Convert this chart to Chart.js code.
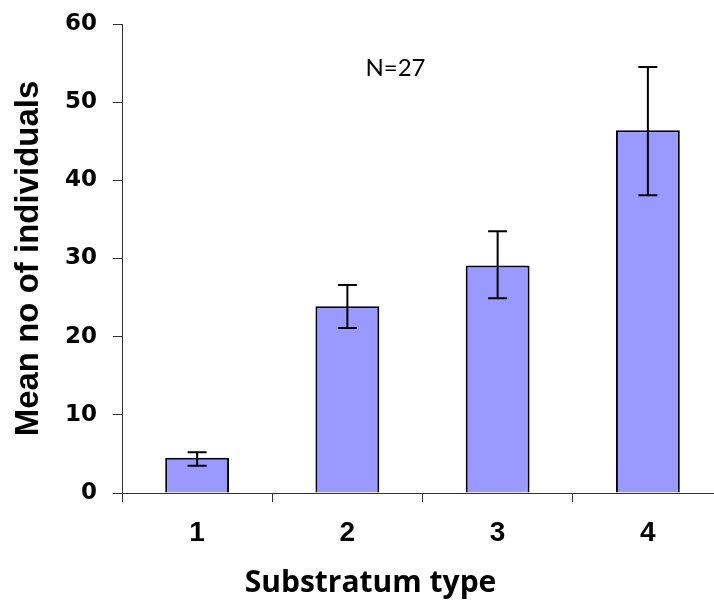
<!DOCTYPE html>
<html>
<head>
<meta charset="utf-8">
<script src="https://cdn.jsdelivr.net/npm/chart.js@4/dist/chart.umd.min.js"></script>
<style>
    html, body { margin: 0; padding: 0; background: #fff; overflow: hidden; }
    #wrap { width: 714px; height: 603px; overflow: hidden; }
</style>
</head>
<body>
<div id="wrap"><canvas id="substrateChart" width="730" height="603"></canvas></div>
<script>
// ═══ 데이터 ═══
const substrateTypes = ['1', '2', '3', '4'];
const meanCounts     = [4.5, 23.9, 29.1, 46.4];
const errLow         = [3.5, 21.1, 24.9, 38.1];
const errHigh        = [5.2, 26.6, 33.5, 54.5];
const yTicks         = [0, 10, 20, 30, 40, 50, 60];
const sampleNote     = 'N=27';

/**
 * 에러바 (막대 중심 기준, 스케일 값 → 픽셀)
 */
const errorBarPlugin = {
    id: 'errorBars',
    afterDatasetsDraw(chart) {
        const { ctx, scales: { y } } = chart;
        const meta = chart.getDatasetMeta(0);
        ctx.save();
        ctx.strokeStyle = '#000';
        ctx.lineWidth   = 2;
        meta.data.forEach((bar, i) => {
            const top = y.getPixelForValue(errHigh[i]);
            const bot = y.getPixelForValue(errLow[i]);
            const cap = 9.5;
            ctx.beginPath();
            ctx.moveTo(bar.x, top);       ctx.lineTo(bar.x, bot);
            ctx.moveTo(bar.x - cap, top); ctx.lineTo(bar.x + cap, top);
            ctx.moveTo(bar.x - cap, bot); ctx.lineTo(bar.x + cap, bot);
            ctx.stroke();
        });
        ctx.restore();
    }
};

// N=27 표기
const notePlugin = {
    id: 'sampleNote',
    afterDraw(chart) {
        const { ctx, scales: { x, y } } = chart;
        ctx.save();
        ctx.font = '24px Lato';
        ctx.fillStyle = '#000';
        ctx.textAlign = 'center';
        ctx.textBaseline = 'middle';
        ctx.fillText(sampleNote, x.getPixelForValue(1.32), y.getPixelForValue(54.4));
        ctx.restore();
    }
};

const ctx = document.getElementById('substrateChart').getContext('2d');
new Chart(ctx, {
    type: 'bar',
    data: {
        labels: substrateTypes,
        datasets: [{
            data: meanCounts,
            backgroundColor: '#9999ff',
            borderColor: '#000',
            borderWidth: 2,
            categoryPercentage: 1,
            barPercentage: 0.425
        }]
    },
    options: {
        responsive: false,
        animation: false,
        layout: { padding: { left: 18, right: 7, top: 24, bottom: 2 } },
        scales: {
            x: {
                offset: true,
                afterFit: s => { s.height = 70; },
                border: { color: '#333', width: 1 },
                grid: { offset: true, drawOnChartArea: false, tickLength: 9, color: '#333' },
                ticks: { color: '#000', padding: 14, font: { family: 'Liberation Sans', size: 28, weight: 'bold' } }
            },
            y: {
                min: 0,
                max: 60,
                afterFit: s => { s.width = 104; s.paddingTop = 0; s.paddingBottom = 0; },
                afterBuildTicks: s => { s.ticks = yTicks.map(v => ({ value: v })); },
                border: { color: '#333', width: 1 },
                grid: { drawOnChartArea: false, tickLength: 9, color: '#333' },
                ticks: { color: '#000', padding: 16, font: { family: 'DejaVu Sans', size: 23, weight: 'bold' } },
                title: {
                    display: true,
                    text: 'Mean no of individuals',
                    color: '#000',
                    padding: { top: 1, bottom: 0 },
                    font: { family: 'Liberation Sans', size: 33, weight: 'bold', lineHeight: 0.6 }
                }
            }
        },
        plugins: {
            legend: { display: false },
            tooltip: { enabled: false },
            title: {
                display: true,
                position: 'bottom',
                text: 'Substratum type',
                color: '#000',
                padding: { top: 2, bottom: 0 },
                font: { family: 'Open Sans', size: 30, weight: 'bold', lineHeight: 1.2 }
            }
        }
    },
    plugins: [errorBarPlugin, notePlugin]
});
</script>
</body>
</html>
